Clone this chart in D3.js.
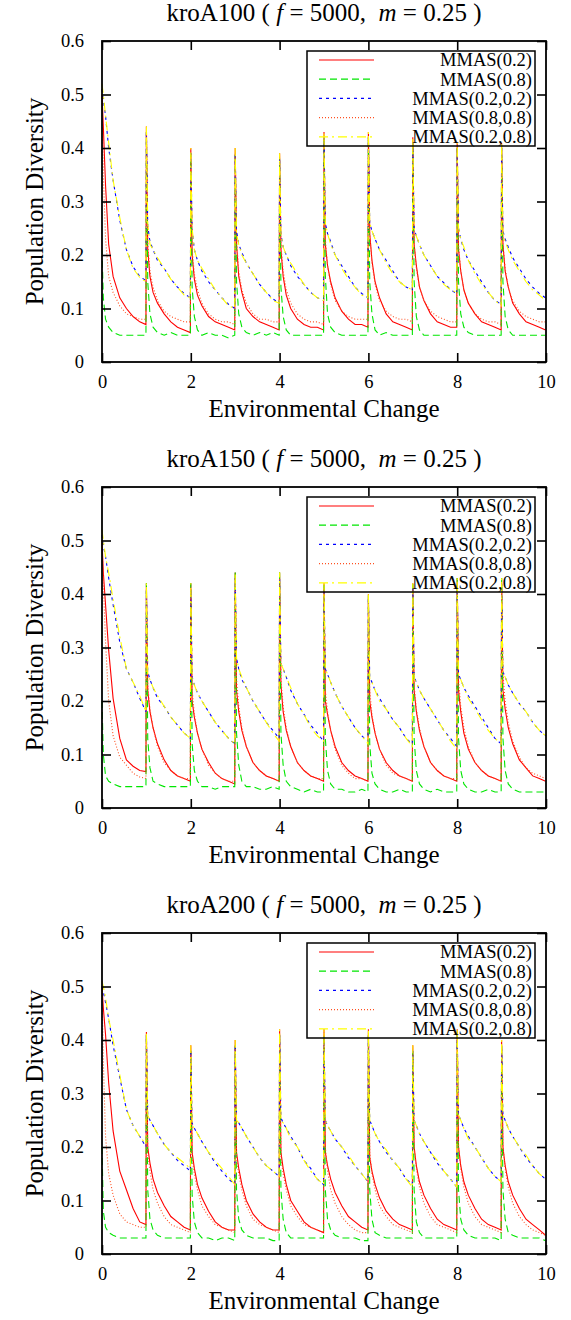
<!DOCTYPE html>
<html lang="en">

<head>
	<meta charset="utf-8">
	<title>Population Diversity - kroA</title>
	<script src="https://d3js.org/d3.v7.js"></script>
	<style>
		body { margin: 0; background: #fff; }
		text { font-family: "Liberation Serif", "Times New Roman", serif; fill: #000; }
	</style>
</head>

<body>
	<div id="my_dataviz"></div>

	<script>
		// sample positions inside one environmental period (x = change + offset)
		const sampleOffsets = [0, 0.03, 0.08, 0.15, 0.25, 0.4, 0.55, 0.7, 0.85, 0.99];
		const seriesNames = ["MMAS(0.2)", "MMAS(0.8)", "MMAS(0.2,0.2)", "MMAS(0.8,0.8)", "MMAS(0.2,0.8)"];
		const instances = ["kroA100", "kroA150", "kroA200"];
		const xTicks = [0, 2, 4, 6, 8, 10];
		const yTicks = [0, 0.1, 0.2, 0.3, 0.4, 0.5, 0.6];
		const yTickLabels = ["0", "0.1", "0.2", "0.3", "0.4", "0.5", "0.6"];

		// ---- kroA100 : one row per environmental period ----
		const kroA100_red = [
			[0.50, 0.44, 0.33, 0.22, 0.16, 0.12, 0.10, 0.085, 0.075, 0.07],
			[0.44, 0.21, 0.16, 0.13, 0.11, 0.09, 0.075, 0.065, 0.06, 0.055],
			[0.40, 0.20, 0.155, 0.125, 0.105, 0.085, 0.075, 0.07, 0.065, 0.06],
			[0.40, 0.22, 0.16, 0.13, 0.10, 0.085, 0.075, 0.07, 0.065, 0.06],
			[0.39, 0.21, 0.16, 0.125, 0.10, 0.08, 0.07, 0.065, 0.065, 0.06],
			[0.43, 0.22, 0.18, 0.15, 0.12, 0.095, 0.08, 0.07, 0.07, 0.065],
			[0.43, 0.24, 0.19, 0.15, 0.12, 0.09, 0.075, 0.07, 0.065, 0.06],
			[0.42, 0.22, 0.18, 0.14, 0.115, 0.09, 0.075, 0.07, 0.065, 0.065],
			[0.41, 0.21, 0.17, 0.135, 0.11, 0.09, 0.075, 0.07, 0.065, 0.06],
			[0.41, 0.22, 0.17, 0.14, 0.11, 0.09, 0.075, 0.07, 0.065, 0.06]
		];
		const kroA100_green = [
			[0.21, 0.12, 0.08, 0.065, 0.055, 0.05, 0.05, 0.05, 0.05, 0.05],
			[0.43, 0.15, 0.09, 0.065, 0.055, 0.05, 0.055, 0.05, 0.05, 0.05],
			[0.39, 0.14, 0.085, 0.06, 0.05, 0.055, 0.05, 0.05, 0.045, 0.05],
			[0.39, 0.15, 0.09, 0.065, 0.055, 0.05, 0.055, 0.05, 0.055, 0.05],
			[0.38, 0.14, 0.085, 0.06, 0.05, 0.05, 0.05, 0.05, 0.05, 0.05],
			[0.42, 0.16, 0.09, 0.065, 0.055, 0.05, 0.05, 0.05, 0.05, 0.05],
			[0.42, 0.15, 0.09, 0.06, 0.05, 0.055, 0.05, 0.05, 0.05, 0.05],
			[0.41, 0.15, 0.085, 0.06, 0.05, 0.05, 0.05, 0.05, 0.05, 0.05],
			[0.40, 0.15, 0.09, 0.065, 0.055, 0.05, 0.05, 0.05, 0.05, 0.05],
			[0.40, 0.15, 0.085, 0.06, 0.05, 0.05, 0.05, 0.05, 0.05, 0.05]
		];
		const kroA100_blue = [
			[0.51, 0.49, 0.46, 0.40, 0.34, 0.265, 0.21, 0.178, 0.16, 0.152],
			[0.43, 0.255, 0.225, 0.21, 0.19, 0.175, 0.155, 0.14, 0.128, 0.12],
			[0.39, 0.25, 0.21, 0.19, 0.17, 0.15, 0.135, 0.12, 0.108, 0.10],
			[0.39, 0.245, 0.22, 0.205, 0.185, 0.165, 0.145, 0.13, 0.118, 0.11],
			[0.38, 0.24, 0.215, 0.20, 0.18, 0.16, 0.145, 0.13, 0.12, 0.115],
			[0.42, 0.26, 0.24, 0.225, 0.20, 0.18, 0.16, 0.14, 0.128, 0.12],
			[0.42, 0.26, 0.245, 0.23, 0.21, 0.19, 0.17, 0.15, 0.14, 0.135],
			[0.41, 0.25, 0.235, 0.22, 0.20, 0.18, 0.16, 0.148, 0.135, 0.128],
			[0.40, 0.25, 0.23, 0.21, 0.19, 0.17, 0.15, 0.13, 0.115, 0.108],
			[0.40, 0.245, 0.23, 0.215, 0.195, 0.175, 0.155, 0.14, 0.128, 0.12]
		];
		const kroA100_orange = [
			[0.50, 0.35, 0.23, 0.16, 0.13, 0.105, 0.09, 0.085, 0.08, 0.08],
			[0.43, 0.22, 0.17, 0.14, 0.115, 0.095, 0.085, 0.08, 0.075, 0.075],
			[0.39, 0.21, 0.165, 0.135, 0.11, 0.09, 0.08, 0.075, 0.075, 0.07],
			[0.39, 0.23, 0.17, 0.135, 0.11, 0.09, 0.08, 0.08, 0.075, 0.075],
			[0.38, 0.22, 0.17, 0.135, 0.11, 0.09, 0.08, 0.075, 0.075, 0.07],
			[0.42, 0.23, 0.18, 0.145, 0.115, 0.095, 0.085, 0.08, 0.08, 0.08],
			[0.42, 0.24, 0.185, 0.145, 0.115, 0.095, 0.085, 0.08, 0.08, 0.075],
			[0.41, 0.22, 0.175, 0.14, 0.115, 0.095, 0.085, 0.08, 0.075, 0.075],
			[0.40, 0.22, 0.17, 0.135, 0.11, 0.09, 0.08, 0.075, 0.075, 0.07],
			[0.40, 0.22, 0.175, 0.14, 0.115, 0.095, 0.085, 0.08, 0.075, 0.075]
		];
		const kroA100_yellow = [
			[0.52, 0.50, 0.46, 0.41, 0.34, 0.27, 0.21, 0.175, 0.158, 0.15],
			[0.44, 0.26, 0.22, 0.21, 0.195, 0.175, 0.155, 0.14, 0.125, 0.12],
			[0.40, 0.25, 0.21, 0.19, 0.175, 0.155, 0.135, 0.12, 0.105, 0.10],
			[0.40, 0.24, 0.22, 0.20, 0.185, 0.165, 0.145, 0.13, 0.115, 0.11],
			[0.39, 0.24, 0.215, 0.20, 0.185, 0.165, 0.145, 0.13, 0.12, 0.115],
			[0.43, 0.26, 0.24, 0.22, 0.20, 0.175, 0.155, 0.14, 0.125, 0.12],
			[0.43, 0.26, 0.245, 0.23, 0.21, 0.185, 0.165, 0.15, 0.14, 0.135],
			[0.42, 0.25, 0.235, 0.22, 0.20, 0.18, 0.16, 0.145, 0.135, 0.13],
			[0.41, 0.25, 0.23, 0.215, 0.19, 0.165, 0.145, 0.13, 0.115, 0.105],
			[0.41, 0.24, 0.225, 0.21, 0.19, 0.17, 0.15, 0.135, 0.125, 0.115]
		];

		// ---- kroA150 ----
		const kroA150_red = [
			[0.50, 0.44, 0.38, 0.295, 0.205, 0.13, 0.09, 0.078, 0.07, 0.068],
			[0.42, 0.22, 0.18, 0.15, 0.12, 0.09, 0.07, 0.06, 0.055, 0.05],
			[0.42, 0.20, 0.17, 0.14, 0.11, 0.085, 0.065, 0.055, 0.05, 0.045],
			[0.44, 0.22, 0.18, 0.145, 0.115, 0.085, 0.07, 0.06, 0.055, 0.05],
			[0.44, 0.23, 0.18, 0.145, 0.115, 0.085, 0.07, 0.06, 0.055, 0.05],
			[0.42, 0.20, 0.175, 0.145, 0.115, 0.085, 0.07, 0.06, 0.055, 0.05],
			[0.40, 0.20, 0.17, 0.14, 0.11, 0.085, 0.07, 0.06, 0.055, 0.05],
			[0.42, 0.22, 0.18, 0.145, 0.115, 0.085, 0.07, 0.06, 0.055, 0.05],
			[0.43, 0.22, 0.18, 0.14, 0.11, 0.085, 0.07, 0.06, 0.055, 0.05],
			[0.43, 0.22, 0.185, 0.15, 0.12, 0.09, 0.075, 0.06, 0.055, 0.05]
		];
		const kroA150_green = [
			[0.20, 0.10, 0.06, 0.05, 0.045, 0.04, 0.04, 0.04, 0.04, 0.04],
			[0.42, 0.13, 0.075, 0.05, 0.045, 0.04, 0.04, 0.04, 0.04, 0.04],
			[0.42, 0.12, 0.07, 0.05, 0.04, 0.04, 0.035, 0.04, 0.04, 0.04],
			[0.44, 0.14, 0.08, 0.05, 0.04, 0.04, 0.035, 0.035, 0.04, 0.035],
			[0.44, 0.14, 0.08, 0.05, 0.04, 0.035, 0.03, 0.035, 0.03, 0.03],
			[0.42, 0.13, 0.07, 0.045, 0.035, 0.035, 0.03, 0.03, 0.035, 0.03],
			[0.40, 0.12, 0.065, 0.045, 0.035, 0.03, 0.03, 0.035, 0.03, 0.03],
			[0.42, 0.13, 0.07, 0.045, 0.035, 0.03, 0.035, 0.03, 0.03, 0.03],
			[0.43, 0.13, 0.07, 0.045, 0.035, 0.03, 0.03, 0.035, 0.03, 0.03],
			[0.43, 0.13, 0.07, 0.045, 0.035, 0.03, 0.03, 0.03, 0.03, 0.03]
		];
		const kroA150_blue = [
			[0.51, 0.49, 0.47, 0.43, 0.38, 0.31, 0.26, 0.235, 0.205, 0.18],
			[0.41, 0.255, 0.24, 0.225, 0.205, 0.19, 0.17, 0.155, 0.14, 0.13],
			[0.41, 0.245, 0.23, 0.215, 0.20, 0.18, 0.16, 0.145, 0.13, 0.12],
			[0.43, 0.28, 0.26, 0.24, 0.225, 0.20, 0.18, 0.16, 0.145, 0.13],
			[0.43, 0.27, 0.26, 0.245, 0.22, 0.195, 0.175, 0.155, 0.14, 0.125],
			[0.41, 0.26, 0.25, 0.235, 0.215, 0.19, 0.17, 0.15, 0.135, 0.125],
			[0.39, 0.245, 0.235, 0.22, 0.205, 0.185, 0.165, 0.15, 0.13, 0.12],
			[0.41, 0.245, 0.235, 0.22, 0.205, 0.185, 0.165, 0.145, 0.13, 0.115],
			[0.42, 0.25, 0.24, 0.225, 0.21, 0.19, 0.17, 0.15, 0.13, 0.12],
			[0.42, 0.255, 0.245, 0.23, 0.215, 0.195, 0.18, 0.16, 0.145, 0.135]
		];
		const kroA150_orange = [
			[0.50, 0.42, 0.31, 0.20, 0.135, 0.095, 0.08, 0.065, 0.058, 0.055],
			[0.41, 0.23, 0.185, 0.15, 0.115, 0.085, 0.07, 0.06, 0.055, 0.055],
			[0.41, 0.22, 0.175, 0.14, 0.11, 0.08, 0.065, 0.055, 0.05, 0.05],
			[0.43, 0.24, 0.19, 0.15, 0.115, 0.085, 0.07, 0.06, 0.055, 0.05],
			[0.43, 0.24, 0.19, 0.15, 0.115, 0.085, 0.07, 0.06, 0.055, 0.055],
			[0.41, 0.22, 0.18, 0.145, 0.11, 0.08, 0.065, 0.055, 0.055, 0.05],
			[0.39, 0.22, 0.175, 0.14, 0.11, 0.08, 0.065, 0.06, 0.055, 0.05],
			[0.41, 0.23, 0.185, 0.15, 0.115, 0.085, 0.07, 0.06, 0.055, 0.055],
			[0.42, 0.24, 0.19, 0.15, 0.115, 0.085, 0.07, 0.06, 0.055, 0.05],
			[0.42, 0.25, 0.20, 0.16, 0.125, 0.095, 0.075, 0.065, 0.06, 0.055]
		];
		const kroA150_yellow = [
			[0.52, 0.50, 0.47, 0.44, 0.39, 0.32, 0.26, 0.235, 0.21, 0.18],
			[0.42, 0.25, 0.24, 0.225, 0.21, 0.19, 0.17, 0.155, 0.14, 0.13],
			[0.42, 0.24, 0.23, 0.215, 0.20, 0.18, 0.16, 0.145, 0.13, 0.12],
			[0.44, 0.28, 0.26, 0.245, 0.225, 0.20, 0.18, 0.16, 0.14, 0.125],
			[0.44, 0.27, 0.26, 0.245, 0.225, 0.195, 0.175, 0.15, 0.135, 0.125],
			[0.42, 0.26, 0.25, 0.235, 0.215, 0.19, 0.17, 0.15, 0.135, 0.12],
			[0.40, 0.24, 0.235, 0.22, 0.20, 0.185, 0.165, 0.15, 0.13, 0.115],
			[0.42, 0.24, 0.235, 0.22, 0.205, 0.185, 0.165, 0.145, 0.125, 0.11],
			[0.43, 0.25, 0.24, 0.225, 0.205, 0.185, 0.165, 0.145, 0.13, 0.12],
			[0.43, 0.25, 0.245, 0.23, 0.215, 0.195, 0.18, 0.16, 0.145, 0.135]
		];

		// ---- kroA200 ----
		const kroA200_red = [
			[0.50, 0.46, 0.41, 0.32, 0.23, 0.155, 0.12, 0.085, 0.06, 0.055],
			[0.415, 0.20, 0.17, 0.14, 0.115, 0.09, 0.07, 0.06, 0.05, 0.045],
			[0.39, 0.19, 0.16, 0.13, 0.105, 0.08, 0.06, 0.05, 0.045, 0.045],
			[0.40, 0.19, 0.16, 0.13, 0.10, 0.075, 0.06, 0.05, 0.045, 0.045],
			[0.42, 0.19, 0.16, 0.13, 0.10, 0.08, 0.06, 0.05, 0.045, 0.04],
			[0.42, 0.19, 0.165, 0.14, 0.115, 0.09, 0.07, 0.06, 0.05, 0.045],
			[0.42, 0.18, 0.155, 0.13, 0.105, 0.08, 0.065, 0.055, 0.05, 0.045],
			[0.39, 0.20, 0.165, 0.135, 0.11, 0.085, 0.065, 0.055, 0.05, 0.045],
			[0.42, 0.20, 0.165, 0.135, 0.11, 0.085, 0.065, 0.055, 0.05, 0.045],
			[0.40, 0.20, 0.165, 0.135, 0.11, 0.085, 0.065, 0.055, 0.045, 0.035]
		];
		const kroA200_green = [
			[0.20, 0.08, 0.05, 0.04, 0.035, 0.03, 0.03, 0.03, 0.03, 0.03],
			[0.41, 0.12, 0.065, 0.045, 0.035, 0.03, 0.03, 0.03, 0.03, 0.03],
			[0.38, 0.11, 0.06, 0.04, 0.03, 0.03, 0.025, 0.03, 0.03, 0.025],
			[0.39, 0.12, 0.065, 0.045, 0.035, 0.03, 0.03, 0.03, 0.025, 0.025],
			[0.41, 0.12, 0.065, 0.04, 0.03, 0.03, 0.03, 0.03, 0.03, 0.03],
			[0.41, 0.12, 0.065, 0.045, 0.035, 0.03, 0.03, 0.03, 0.025, 0.025],
			[0.41, 0.12, 0.065, 0.04, 0.035, 0.03, 0.03, 0.03, 0.03, 0.03],
			[0.38, 0.12, 0.06, 0.04, 0.03, 0.03, 0.03, 0.03, 0.03, 0.03],
			[0.41, 0.12, 0.065, 0.045, 0.035, 0.03, 0.03, 0.03, 0.03, 0.025],
			[0.39, 0.12, 0.065, 0.04, 0.035, 0.03, 0.03, 0.03, 0.03, 0.025]
		];
		const kroA200_blue = [
			[0.50, 0.49, 0.47, 0.44, 0.39, 0.33, 0.27, 0.24, 0.22, 0.20],
			[0.41, 0.26, 0.25, 0.24, 0.225, 0.205, 0.19, 0.175, 0.165, 0.155],
			[0.38, 0.245, 0.235, 0.225, 0.21, 0.19, 0.17, 0.155, 0.14, 0.13],
			[0.39, 0.25, 0.245, 0.235, 0.22, 0.20, 0.18, 0.165, 0.155, 0.145],
			[0.41, 0.255, 0.245, 0.235, 0.22, 0.20, 0.175, 0.16, 0.14, 0.13],
			[0.41, 0.25, 0.24, 0.23, 0.215, 0.20, 0.18, 0.165, 0.15, 0.135],
			[0.41, 0.25, 0.24, 0.225, 0.21, 0.19, 0.175, 0.16, 0.14, 0.13],
			[0.38, 0.25, 0.24, 0.225, 0.21, 0.19, 0.17, 0.155, 0.14, 0.125],
			[0.41, 0.26, 0.25, 0.235, 0.22, 0.20, 0.18, 0.16, 0.145, 0.135],
			[0.39, 0.26, 0.25, 0.235, 0.22, 0.20, 0.18, 0.165, 0.15, 0.14]
		];
		const kroA200_orange = [
			[0.50, 0.36, 0.22, 0.15, 0.11, 0.075, 0.06, 0.055, 0.05, 0.05],
			[0.41, 0.19, 0.155, 0.12, 0.095, 0.07, 0.055, 0.05, 0.045, 0.04],
			[0.38, 0.18, 0.15, 0.12, 0.09, 0.07, 0.055, 0.05, 0.045, 0.04],
			[0.39, 0.18, 0.15, 0.12, 0.09, 0.065, 0.055, 0.05, 0.045, 0.04],
			[0.41, 0.18, 0.15, 0.12, 0.09, 0.07, 0.055, 0.05, 0.045, 0.04],
			[0.41, 0.20, 0.155, 0.12, 0.095, 0.07, 0.055, 0.045, 0.04, 0.04],
			[0.41, 0.19, 0.15, 0.12, 0.09, 0.07, 0.055, 0.05, 0.045, 0.04],
			[0.38, 0.20, 0.16, 0.125, 0.095, 0.07, 0.055, 0.05, 0.045, 0.04],
			[0.41, 0.20, 0.16, 0.125, 0.095, 0.07, 0.055, 0.05, 0.045, 0.04],
			[0.39, 0.20, 0.16, 0.125, 0.095, 0.07, 0.055, 0.045, 0.04, 0.035]
		];
		const kroA200_yellow = [
			[0.51, 0.50, 0.48, 0.44, 0.40, 0.335, 0.27, 0.24, 0.22, 0.205],
			[0.415, 0.26, 0.25, 0.24, 0.225, 0.205, 0.19, 0.18, 0.17, 0.16],
			[0.39, 0.24, 0.235, 0.225, 0.21, 0.19, 0.175, 0.16, 0.145, 0.13],
			[0.40, 0.25, 0.245, 0.235, 0.22, 0.20, 0.18, 0.165, 0.155, 0.145],
			[0.42, 0.25, 0.245, 0.235, 0.215, 0.20, 0.175, 0.155, 0.14, 0.13],
			[0.42, 0.25, 0.24, 0.23, 0.215, 0.20, 0.185, 0.165, 0.15, 0.135],
			[0.42, 0.25, 0.24, 0.225, 0.21, 0.195, 0.175, 0.16, 0.14, 0.125],
			[0.39, 0.25, 0.24, 0.225, 0.21, 0.19, 0.175, 0.155, 0.14, 0.125],
			[0.42, 0.26, 0.25, 0.235, 0.215, 0.20, 0.18, 0.16, 0.145, 0.135],
			[0.40, 0.26, 0.25, 0.235, 0.22, 0.20, 0.185, 0.165, 0.15, 0.14]
		];

		const panelSeries = [
			[kroA100_red, kroA100_green, kroA100_blue, kroA100_orange, kroA100_yellow],
			[kroA150_red, kroA150_green, kroA150_blue, kroA150_orange, kroA150_yellow],
			[kroA200_red, kroA200_green, kroA200_blue, kroA200_orange, kroA200_yellow]
		];

		// line styles, same order as seriesNames
		const styles = [
			{ color: "#ff0000", dash: null },
			{ color: "#00e600", dash: "7,4" },
			{ color: "#0000ff", dash: "3,4" },
			{ color: "#ff5020", dash: "1,2" },
			{ color: "#ffff00", dash: "9,4,2,4" }
		];

		// set the dimensions and margins of each panel
		const margin = { top: 41, left: 102 },
			width = 444,
			height = 321,
			panelStep = 446;

		const svg = d3.select("#my_dataviz")
			.append("svg")
			.attr("width", 571)
			.attr("height", 1320);

		const x = d3.scaleLinear().domain([0, 10]).range([0, width]);
		const y = d3.scaleLinear().domain([0, 0.6]).range([height, 0]);

		const line = d3.line()
			.x(function (d) { return x(d[0]); })
			.y(function (d) { return y(d[1]); });

		// turn period rows into [x, value] points
		function toPoints(rows) {
			const pts = [];
			rows.forEach(function (row, k) {
				row.forEach(function (v, j) {
					pts.push([k + sampleOffsets[j], v]);
				});
			});
			return pts;
		}

		instances.forEach(function (name, p) {
			const g = svg.append("g")
				.attr("transform", `translate(${margin.left},${margin.top + p * panelStep})`);

			// title
			const title = g.append("text")
				.attr("x", width / 2)
				.attr("y", -20)
				.attr("text-anchor", "middle")
				.style("font-size", "25px")
				.style("white-space", "pre");
			title.append("tspan").text(name + " ( ");
			title.append("tspan").style("font-style", "italic").text("f");
			title.append("tspan").text(" = 5000,  ");
			title.append("tspan").style("font-style", "italic").text("m");
			title.append("tspan").text(" = 0.25 )");

			// data lines
			panelSeries[p].forEach(function (rows, s) {
				g.append("path")
					.attr("d", line(toPoints(rows)))
					.attr("fill", "none")
					.attr("stroke", styles[s].color)
					.attr("stroke-width", 1.1)
					.attr("stroke-dasharray", styles[s].dash);
			});

			// axes with inward ticks, mirrored
			const axisB = d3.axisBottom(x).tickValues(xTicks).tickSizeInner(-9).tickSizeOuter(0).tickPadding(13);
			const axisT = d3.axisTop(x).tickValues(xTicks).tickSizeInner(-9).tickSizeOuter(0).tickFormat("");
			const axisL = d3.axisLeft(y).tickValues(yTicks).tickSizeInner(-9).tickSizeOuter(0).tickPadding(18)
				.tickFormat(function (d, i) { return yTickLabels[i]; });
			const axisR = d3.axisRight(y).tickValues(yTicks).tickSizeInner(-9).tickSizeOuter(0).tickFormat("");

			g.append("g").attr("transform", `translate(0,${height})`).call(axisB);
			g.append("g").call(axisT);
			g.append("g").call(axisL);
			g.append("g").attr("transform", `translate(${width},0)`).call(axisR);

			g.selectAll(".tick line").attr("stroke", "#000").attr("stroke-width", 1.6);
			g.selectAll(".domain").remove();
			g.selectAll(".tick text")
				.style("font-family", "Liberation Serif")
				.style("font-size", "18.5px")
				.attr("fill", "#000");

			// frame
			g.append("rect")
				.attr("width", width)
				.attr("height", height)
				.attr("fill", "none")
				.attr("stroke", "#000")
				.attr("stroke-width", 1.8);

			// axis titles
			g.append("text")
				.attr("x", width / 2)
				.attr("y", height + 55)
				.attr("text-anchor", "middle")
				.style("font-size", "25px")
				.text("Environmental Change");

			g.append("text")
				.attr("transform", `translate(${-59},${height / 2}) rotate(-90)`)
				.attr("text-anchor", "middle")
				.style("font-size", "25px")
				.text("Population Diversity");

			// legend
			const leg = g.append("g").attr("transform", "translate(205,10)");
			leg.append("rect")
				.attr("width", 228)
				.attr("height", 95)
				.attr("fill", "none")
				.attr("stroke", "#000")
				.attr("stroke-width", 1.5);
			seriesNames.forEach(function (lab, s) {
				const yy = 9 + s * 19.2;
				leg.append("line")
					.attr("x1", 12).attr("x2", 67)
					.attr("y1", yy).attr("y2", yy)
					.attr("stroke", styles[s].color)
					.attr("stroke-width", 1.2)
					.attr("stroke-dasharray", styles[s].dash);
				leg.append("text")
					.attr("x", 225)
					.attr("y", yy)
					.attr("dy", "0.35em")
					.attr("text-anchor", "end")
					.style("font-size", "18.5px")
					.text(lab);
			});
		});
	</script>

</body>

</html>
